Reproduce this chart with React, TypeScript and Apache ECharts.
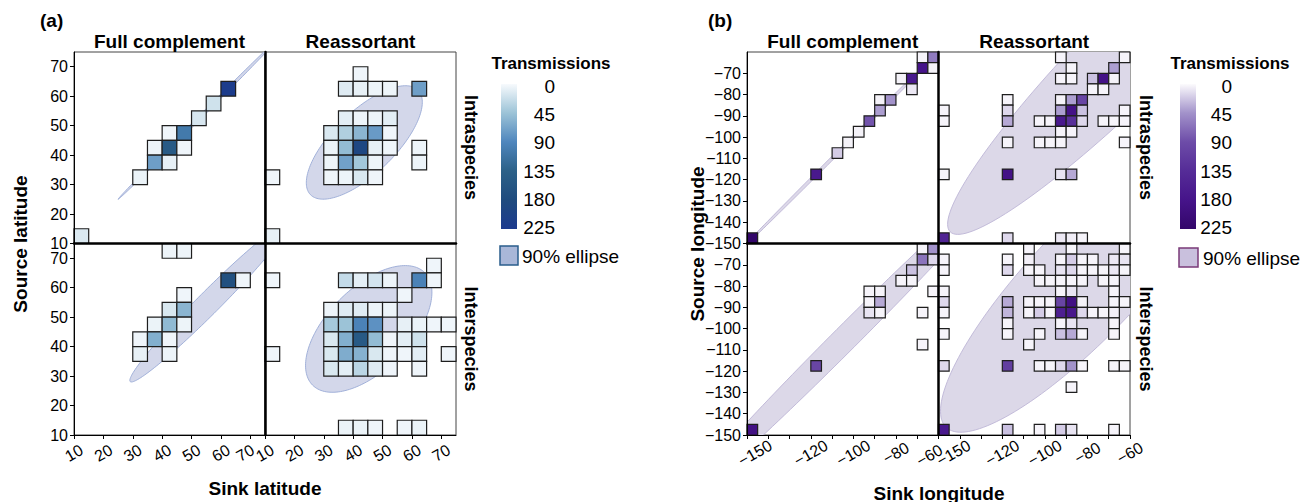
import React, { useEffect, useRef } from 'react';
import * as echarts from 'echarts';

// ---------- tick labels ----------
const latTicks = [10, 20, 30, 40, 50, 60, 70];
const lonTicks = [-150, -140, -130, -120, -110, -100, -90, -80, -70, -60];
const lonXTickLabels = [-150, -120, -100, -80, -60];
const lonYTickLabels = [-70, -80, -90, -100, -110, -120, -130, -140, -150];
const legendTicks = [0, 45, 90, 135, 180, 225];
const facetCols = ['Full complement', 'Reassortant'];
const facetRows = ['Intraspecies', 'Interspecies'];

// ---------- cells: [sink lower bound, source lower bound, transmissions] ----------
const latFullIntra = [
  [60, 60, 220], [55, 55, 20], [50, 50, 16], [40, 45, 4], [45, 45, 105],
  [35, 40, 5], [40, 40, 150], [45, 40, 4], [35, 35, 72], [40, 35, 8],
  [30, 30, 6], [10, 10, 14],
];
const latReasIntra = [
  [40, 65, 4],
  [35, 60, 12], [40, 60, 8], [45, 60, 5], [50, 60, 5], [60, 60, 72],
  [35, 50, 10], [40, 50, 5], [45, 50, 5], [50, 50, 10],
  [30, 45, 15], [35, 45, 35], [40, 45, 55], [45, 45, 75], [50, 45, 4],
  [30, 40, 6], [35, 40, 50], [40, 40, 190], [45, 40, 8], [50, 40, 4], [60, 40, 5],
  [30, 35, 5], [35, 35, 70], [40, 35, 42], [45, 35, 5], [60, 35, 5],
  [30, 30, 4], [35, 30, 5], [40, 30, 15], [45, 30, 4],
  [10, 30, 4], [10, 10, 8],
];
const latFullInter = [
  [40, 70, 5], [45, 70, 5],
  [60, 60, 170], [65, 60, 4],
  [45, 55, 4],
  [40, 50, 15], [45, 50, 55],
  [35, 45, 6], [40, 45, 52], [45, 45, 5],
  [30, 40, 4], [35, 40, 60], [40, 40, 4],
  [30, 35, 8], [40, 35, 5],
];
const latReasInter = [
  [65, 65, 4],
  [10, 60, 4], [35, 60, 25], [40, 60, 10], [45, 60, 18], [50, 60, 5], [60, 60, 95], [65, 60, 4],
  [55, 55, 4],
  [30, 50, 5], [35, 50, 12], [40, 50, 12], [45, 50, 5], [50, 50, 5],
  [30, 45, 40], [35, 45, 45], [40, 45, 95], [45, 45, 82], [55, 45, 8], [60, 45, 6], [65, 45, 4], [70, 45, 4],
  [30, 40, 15], [35, 40, 60], [40, 40, 150], [45, 40, 50], [50, 40, 4], [55, 40, 10], [60, 40, 20],
  [10, 35, 4], [30, 35, 15], [35, 35, 62], [40, 35, 58], [45, 35, 15], [50, 35, 4], [55, 35, 4], [60, 35, 10], [70, 35, 4],
  [30, 30, 15], [35, 30, 10], [40, 30, 30], [45, 30, 12], [50, 30, 4], [60, 30, 4],
  [35, 10, 6], [40, 10, 6], [45, 10, 4], [55, 10, 4], [60, 10, 6],
];
const lonFullIntra = [
  [-70, -65, 3], [-65, -65, 60],
  [-70, -70, 180], [-65, -70, 4],
  [-80, -75, 4], [-75, -75, 170],
  [-75, -80, 8],
  [-90, -85, 4], [-85, -85, 45],
  [-90, -90, 40],
  [-95, -95, 85],
  [-100, -100, 4],
  [-105, -105, 4],
  [-110, -110, 20],
  [-120, -120, 170],
  [-150, -150, 225],
];
const lonReasIntra = [
  [-95, -65, 3], [-65, -65, 3],
  [-90, -70, 3], [-70, -70, 40],
  [-95, -75, 3], [-90, -75, 3], [-80, -75, 25], [-75, -75, 185], [-70, -75, 4],
  [-80, -80, 3], [-75, -80, 3],
  [-120, -85, 3], [-95, -85, 4], [-90, -85, 40], [-85, -85, 100],
  [-150, -90, 3], [-120, -90, 15], [-95, -90, 40], [-90, -90, 185], [-85, -90, 25], [-65, -90, 3],
  [-150, -95, 3], [-120, -95, 35], [-105, -95, 3], [-100, -95, 3], [-95, -95, 170], [-90, -95, 130], [-85, -95, 15], [-75, -95, 3], [-70, -95, 3], [-65, -95, 3],
  [-95, -100, 3], [-90, -100, 3],
  [-120, -105, 3], [-105, -105, 3], [-100, -105, 3], [-95, -105, 3], [-65, -105, 3],
  [-150, -120, 3], [-120, -120, 185], [-95, -120, 10], [-90, -120, 35],
  [-150, -150, 150], [-120, -150, 15], [-95, -150, 8], [-90, -150, 6], [-85, -150, 3],
];
const lonFullInter = [
  [-70, -65, 3], [-65, -65, 45],
  [-70, -70, 65], [-65, -70, 15],
  [-75, -75, 25],
  [-80, -80, 3], [-75, -80, 3],
  [-95, -85, 3], [-90, -85, 3], [-65, -85, 3],
  [-95, -90, 3], [-90, -90, 35],
  [-95, -95, 10], [-90, -95, 3], [-70, -95, 3],
  [-70, -110, 3],
  [-120, -120, 100],
  [-150, -150, 190],
];
const lonReasInter = [
  [-110, -65, 3], [-90, -65, 3], [-65, -65, 3],
  [-150, -70, 3], [-120, -70, 3], [-110, -70, 5], [-95, -70, 3], [-90, -70, 20], [-85, -70, 3], [-80, -70, 3], [-70, -70, 8], [-65, -70, 10],
  [-150, -75, 3], [-120, -75, 15], [-110, -75, 3], [-105, -75, 3], [-95, -75, 10], [-90, -75, 15], [-85, -75, 3], [-80, -75, 3], [-75, -75, 3], [-70, -75, 8], [-65, -75, 3],
  [-105, -80, 3], [-100, -80, 3], [-95, -80, 3], [-90, -80, 3], [-85, -80, 3], [-75, -80, 3], [-70, -80, 3],
  [-150, -85, 3], [-95, -85, 3], [-90, -85, 10], [-70, -85, 3],
  [-150, -90, 15], [-120, -90, 35], [-110, -90, 3], [-105, -90, 3], [-100, -90, 3], [-95, -90, 100], [-90, -90, 190], [-85, -90, 4], [-70, -90, 3], [-65, -90, 3],
  [-150, -95, 3], [-120, -95, 30], [-110, -95, 3], [-105, -95, 20], [-100, -95, 3], [-95, -95, 160], [-90, -95, 175], [-85, -95, 15], [-80, -95, 3], [-75, -95, 3], [-70, -95, 5],
  [-120, -100, 3], [-95, -100, 3], [-90, -100, 10], [-70, -100, 3],
  [-150, -105, 3], [-120, -105, 3], [-105, -105, 3], [-95, -105, 25], [-90, -105, 35], [-85, -105, 3], [-70, -105, 3],
  [-110, -110, 3],
  [-150, -120, 15], [-120, -120, 110], [-105, -120, 3], [-100, -120, 3], [-95, -120, 15], [-90, -120, 45], [-85, -120, 3], [-70, -120, 3], [-65, -120, 3],
  [-90, -130, 3],
  [-150, -150, 170], [-120, -150, 25], [-105, -150, 3], [-95, -150, 20], [-90, -150, 10], [-70, -150, 3],
];

// ---------- 90% ellipses: [centre x, centre y, semi-major, semi-minor, angle deg] ----------
const ellLatFullIntra = [52, 52, 38.2, 0.55, 45];
const ellLatReasIntra = [43.8, 44.3, 25.5, 10.5, 44];
const ellLatFullInter = [56, 55, 38, 3.8, 45];
const ellLatReasInter = [45.3, 46, 27, 14, 45];
const ellLonFullIntra = [-105, -105, 70, 0.75, 45];
const ellLonReasIntra = [-54, -54, 128, 21, 45];
const ellLonFullInter = [-103.6, -104.4, 110, 5.8, 45];
const ellLonReasInter = [-81, -77.5, 95, 26, 46.5];

const BIN = 5;
const blueScale = ['#f7fafd', '#9cc3d7', '#4f86bd', '#2c6188', '#1f4b7e', '#1c3a8e'];
const purpleScale = ['#fcfbfd', '#a292ca', '#6d4ca8', '#552c97', '#46148a', '#33066a'];

const FONT = '"Liberation Sans", Arial, Helvetica, sans-serif';

type Facet = { panel: 'a' | 'b'; col: number; row: number; data: number[][]; ell: number[] };
const facets: Facet[] = [
  { panel: 'a', col: 0, row: 0, data: latFullIntra, ell: ellLatFullIntra },
  { panel: 'a', col: 1, row: 0, data: latReasIntra, ell: ellLatReasIntra },
  { panel: 'a', col: 0, row: 1, data: latFullInter, ell: ellLatFullInter },
  { panel: 'a', col: 1, row: 1, data: latReasInter, ell: ellLatReasInter },
  { panel: 'b', col: 0, row: 0, data: lonFullIntra, ell: ellLonFullIntra },
  { panel: 'b', col: 1, row: 0, data: lonReasIntra, ell: ellLonReasIntra },
  { panel: 'b', col: 0, row: 1, data: lonFullInter, ell: ellLonFullInter },
  { panel: 'b', col: 1, row: 1, data: lonReasInter, ell: ellLonReasInter },
];

const layout = {
  a: { left: 74, w: 191, range: [10, 75], ellFill: '#d3d7ea', ellStroke: '#9aaad6' },
  b: { left: 747, w: 191.5, range: [-150, -60], ellFill: '#dcd8e8', ellStroke: '#bdb5d6' },
};
const rowTop = [52, 243.5];
const facetH = 191.5;

// padding [top, right, bottom, left] that nudges a few crowded x tick labels at the facet seams
const labelPad: Record<string, Record<number, number[]>> = {
  a0: { 70: [0, 8.7, 5, 0] },
  a1: {},
  b0: { [-150]: [8, 0, 0, 13.9], [-60]: [0, 18, 5, 0] },
  b1: { [-150]: [15, 0, 0, 26] },
};

const fmt = (v: number) => (v < 0 ? '\u2212' + Math.abs(v) : String(v));
const ROT = 30;

function ellipseRender(fill: string, stroke: string) {
  return (params: any, api: any) => {
    const cx = api.value(0), cy = api.value(1), a = api.value(2), b = api.value(3);
    const ang = (api.value(4) * Math.PI) / 180;
    const pts: number[][] = [];
    const n = 160;
    for (let k = 0; k < n; k++) {
      const t = (k / n) * Math.PI * 2;
      const x = cx + a * Math.cos(ang) * Math.cos(t) - b * Math.sin(ang) * Math.sin(t);
      const y = cy + a * Math.sin(ang) * Math.cos(t) + b * Math.cos(ang) * Math.sin(t);
      pts.push(api.coord([x, y]));
    }
    const cs = params.coordSys;
    return {
      type: 'group',
      clipPath: { type: 'rect', shape: { x: cs.x, y: cs.y, width: cs.width, height: cs.height } },
      children: [{ type: 'polygon', shape: { points: pts }, style: { fill, stroke, lineWidth: 0.9 } }],
    };
  };
}

function cellRender(params: any, api: any) {
  const x0 = api.value(0), y0 = api.value(1);
  const p0 = api.coord([x0, y0 + BIN]);
  const p1 = api.coord([x0 + BIN, y0]);
  return {
    type: 'rect',
    shape: { x: p0[0], y: p0[1], width: p1[0] - p0[0], height: p1[1] - p0[1] },
    style: { fill: api.visual('color'), stroke: '#1e1e1e', lineWidth: 1.2 },
  };
}

function txt(x: number, y: number, text: string, size: number, bold: boolean, align = 'center', rotation = 0) {
  return {
    type: 'text', x, y, rotation, z: 10,
    style: {
      text, fill: '#000', fontSize: size, fontWeight: bold ? 'bold' : 'normal', fontFamily: FONT,
      align, textAlign: align, verticalAlign: 'middle', textVerticalAlign: 'middle',
    },
  };
}

function buildOption() {
  const grid: any[] = [];
  const xAxis: any[] = [];
  const yAxis: any[] = [];
  const series: any[] = [];
  const cellIdx = { a: [] as number[], b: [] as number[] };

  facets.forEach((f, i) => {
    const L = layout[f.panel];
    const left = L.left + f.col * L.w;
    grid.push({ left, top: rowTop[f.row], width: L.w, height: facetH, show: true, borderColor: '#444', borderWidth: 1 });
    const isLat = f.panel === 'a';
    const xLabels = isLat ? latTicks : lonXTickLabels;
    const yLabels = isLat ? latTicks : lonYTickLabels;
    const pads = labelPad[f.panel + f.col];
    const padKeys = Object.keys(pads).map(Number);
    const rich: any = { n: { fontSize: 16, fontFamily: FONT, color: '#000' } };
    padKeys.forEach((k, j) => {
      rich['o' + j] = { fontSize: 16, fontFamily: FONT, color: '#000', padding: pads[k] };
    });
    xAxis.push({
      gridIndex: i, type: 'value', min: L.range[0], max: L.range[1], interval: 10, z: 4,
      axisLine: { onZero: false, lineStyle: { color: '#000', width: f.row === 0 ? 2.5 : 1 } },
      axisTick: { show: f.row === 1, length: 4, lineStyle: { color: '#000' }, customValues: isLat ? latTicks : lonTicks },
      axisLabel: {
        show: f.row === 1, rotate: ROT, margin: 18, align: 'center', verticalAlign: 'middle',
        fontSize: 16, color: '#000', fontFamily: FONT, showMinLabel: true, showMaxLabel: true,
        customValues: xLabels, rich,
        formatter: (v: number) => {
          if (!xLabels.includes(v)) return '';
          const j = padKeys.indexOf(v);
          return j >= 0 ? `{o${j}|${fmt(v)}}` : `{n|${fmt(v)}}`;
        },
      },
      splitLine: { show: false },
    });
    yAxis.push({
      gridIndex: i, type: 'value', min: L.range[0], max: L.range[1], interval: 10, z: 4,
      axisLine: { onZero: false, lineStyle: { color: '#000', width: f.col === 1 ? 2.5 : 1 } },
      axisTick: { show: f.col === 0, length: 4, lineStyle: { color: '#000' }, customValues: yLabels },
      axisLabel: {
        show: f.col === 0, margin: 6, fontSize: 16, color: '#000', fontFamily: FONT,
        showMinLabel: true, showMaxLabel: true, customValues: yLabels,
        formatter: (v: number) => (yLabels.includes(v) ? fmt(v) : ''),
      },
      splitLine: { show: false },
    });
    series.push({
      type: 'custom', xAxisIndex: i, yAxisIndex: i, z: 1, silent: true,
      encode: { x: 0, y: 1 }, data: [f.ell], renderItem: ellipseRender(L.ellFill, L.ellStroke),
    });
    cellIdx[f.panel].push(series.length);
    series.push({
      type: 'custom', xAxisIndex: i, yAxisIndex: i, z: 2, silent: true,
      encode: { x: 0, y: 1 }, data: f.data, renderItem: cellRender,
    });
  });

  // colour bar axes
  const bars = [
    { left: 501, right: 555, tick: '#3f6fa0' },
    { left: 1180, right: 1232, tick: '#5a3a98' },
  ];
  bars.forEach((b, k) => {
    const gi = 8 + k;
    grid.push({ left: b.left, top: 86.5, width: 16, height: 141, show: false });
    xAxis.push({ gridIndex: gi, type: 'value', show: false, min: 0, max: 1 });
    yAxis.push({
      gridIndex: gi, type: 'value', min: 0, max: 225, interval: 45, inverse: true, position: 'right',
      axisLine: { show: false },
      axisTick: { show: true, length: 2, lineStyle: { color: b.tick } },
      axisLabel: {
        align: 'right', margin: b.right - b.left - 16, fontSize: 19, color: '#000', fontFamily: FONT,
        showMinLabel: true, showMaxLabel: true, customValues: legendTicks,
      },
      splitLine: { show: false },
    });
  });

  const gradient = (scale: string[]) => ({
    type: 'linear', x: 0, y: 0, x2: 0, y2: 1,
    colorStops: scale.map((c, i) => ({ offset: i / (scale.length - 1), color: c })),
  });

  const graphic: any[] = [
    txt(40, 20, '(a)', 19, true, 'left'),
    txt(708, 20, '(b)', 19, true, 'left'),
    txt(20, 244, 'Source latitude', 19, true, 'center', Math.PI / 2),
    txt(265, 488, 'Sink latitude', 19, true),
    txt(697, 244, 'Source longitude', 19, true, 'center', Math.PI / 2),
    txt(939, 493, 'Sink longitude', 19, true),
    txt(74 + 191 / 2, 41, facetCols[0], 19, true),
    txt(265 + 191 / 2, 41, facetCols[1], 19, true),
    txt(747 + 191.5 / 2, 41, facetCols[0], 19, true),
    txt(938.5 + 191.5 / 2, 41, facetCols[1], 19, true),
    txt(471, 147.5, facetRows[0], 18, true, 'center', -Math.PI / 2),
    txt(471, 339, facetRows[1], 18, true, 'center', -Math.PI / 2),
    txt(1146, 147.5, facetRows[0], 18, true, 'center', -Math.PI / 2),
    txt(1146, 339, facetRows[1], 18, true, 'center', -Math.PI / 2),
    txt(551, 63, 'Transmissions', 17, true),
    txt(1230, 63, 'Transmissions', 17, true),
    { type: 'rect', shape: { x: 501, y: 84, width: 16, height: 145 }, style: { fill: gradient(blueScale) }, z: 5 },
    { type: 'rect', shape: { x: 1180, y: 84, width: 16, height: 145 }, style: { fill: gradient(purpleScale) }, z: 5 },
    { type: 'rect', shape: { x: 500, y: 246, width: 18, height: 19 }, style: { fill: '#a9b7d8', stroke: '#2a5d8c', lineWidth: 1.5 }, z: 5 },
    txt(522, 256, '90% ellipse', 19, false, 'left'),
    { type: 'rect', shape: { x: 1179, y: 248, width: 19, height: 19 }, style: { fill: '#c9c0dd', stroke: '#7a3a78', lineWidth: 1.5 }, z: 5 },
    txt(1203, 258, '90% ellipse', 19, false, 'left'),
  ];

  return {
    animation: false,
    backgroundColor: '#fff',
    textStyle: { fontFamily: FONT },
    grid, xAxis, yAxis, series, graphic,
    visualMap: [
      { type: 'continuous', show: false, min: 0, max: 225, dimension: 2, seriesIndex: cellIdx.a, inRange: { color: blueScale } },
      { type: 'continuous', show: false, min: 0, max: 225, dimension: 2, seriesIndex: cellIdx.b, inRange: { color: purpleScale } },
    ],
  };
}

export default function App() {
  const ref = useRef<HTMLDivElement>(null);
  useEffect(() => {
    if (!ref.current) return;
    const chart = echarts.init(ref.current, undefined, { renderer: 'svg' });
    chart.setOption(buildOption() as any);
    return () => chart.dispose();
  }, []);
  return <div ref={ref} style={{ position: 'fixed', left: 0, top: 0, width: 1304, height: 502 }} />;
}
